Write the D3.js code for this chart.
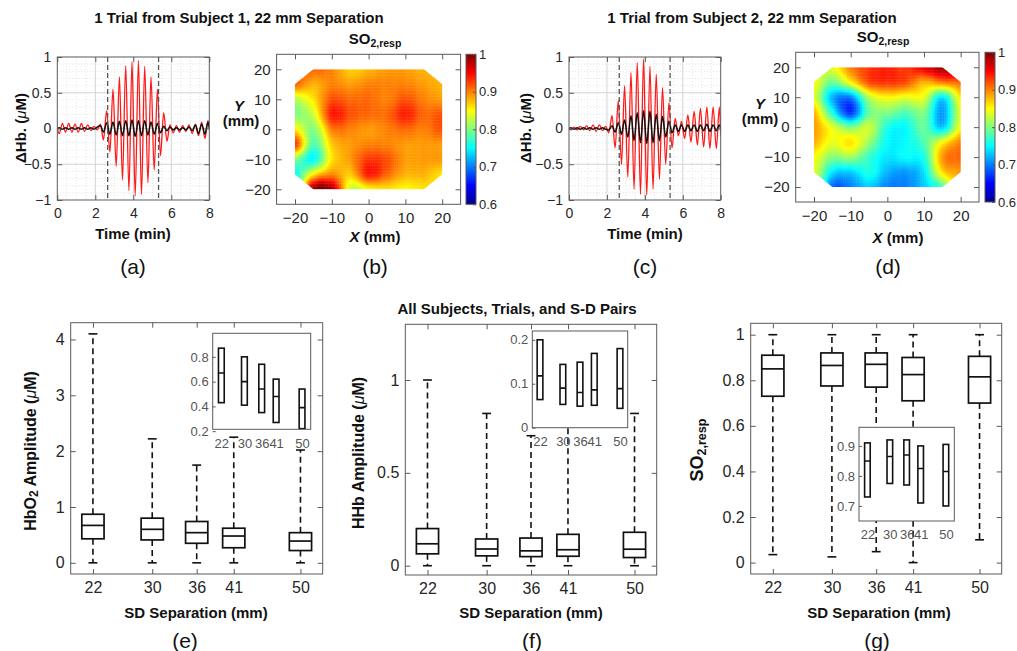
<!DOCTYPE html>
<html>
<head>
<meta charset="utf-8">
<script src="https://cdn.jsdelivr.net/npm/d3@7"></script>
<style>
  body { margin: 0; background: #fff; }
  svg { font-family: "Liberation Sans", Arial, sans-serif; }
</style>
</head>
<body>
<script>
// ---- data ----
// time samples (min) at the half-cycle turning points of the hemodynamic traces
var timeMin = [0, 0.1, 0.27, 0.43, 0.6, 0.77, 0.93, 1.1, 1.27, 1.43,
    1.6, 1.77, 1.93, 2.1, 2.27, 2.43, 2.6, 2.77, 2.93, 3.1,
    3.27, 3.43, 3.6, 3.77, 3.93, 4.1, 4.27, 4.43, 4.6, 4.77,
    4.93, 5.1, 5.27, 5.43, 5.6, 5.77, 5.93, 6.1, 6.27, 6.43,
    6.6, 6.77, 6.93, 7.1, 7.27, 7.43, 7.6, 7.77, 7.93, 8.0];
var stimMin = [2.65, 5.33];   // dashed lines: stimulation on / off

// panel (a): subject 1, red = HbO2, black = HHb
var hbo2A = [0, -0.07, 0.07, -0.05, 0.07, -0.05, 0.06, -0.05, 0.07, -0.04,
    0.05, -0.03, 0.03, -0.02, 0.06, -0.16, 0.25, -0.33, 0.55, -0.53,
    0.72, -0.72, 0.88, -0.87, 0.93, -0.94, 0.95, -0.92, 0.87, -0.76,
    0.72, -0.58, 0.55, -0.38, 0.22, -0.18, 0.05, -0.06, 0.04, -0.05,
    0.04, -0.04, 0.05, -0.07, 0.06, -0.1, 0.09, -0.14, 0.11, 0.03];
var hhbA = [0, 0.01, -0.01, 0.01, -0.01, 0.01, -0.01, 0.01, -0.01, 0.01,
    -0.01, 0.01, -0.01, 0.02, 0.04, -0.05, 0.08, -0.08, 0.09, -0.09,
    0.1, -0.1, 0.11, -0.1, 0.12, -0.11, 0.11, -0.1, 0.11, -0.09,
    0.09, -0.08, 0.07, -0.06, 0.03, -0.03, 0.02, -0.02, 0.01, -0.02,
    0.01, -0.02, 0.02, -0.03, 0.05, -0.07, 0.06, -0.08, 0.09, 0];

// panel (c): subject 2
var hbo2C = [0, -0.02, 0.02, -0.02, 0.03, -0.02, 0.04, -0.03, 0.05, -0.04,
    0.05, -0.03, 0.03, -0.06, 0.18, -0.27, 0.39, -0.5, 0.6, -0.68,
    0.78, -0.85, 0.92, -0.92, 0.97, -0.93, 0.87, -0.85, 0.76, -0.71,
    0.57, -0.5, 0.36, -0.27, 0.14, -0.1, 0.1, -0.14, 0.19, -0.19,
    0.24, -0.23, 0.28, -0.26, 0.3, -0.28, 0.3, -0.28, 0.3, -0.1];
var hhbC = [0, 0.01, -0.01, 0.01, -0.01, 0.01, -0.01, 0.01, -0.01, 0.01,
    -0.01, 0.01, -0.01, -0.02, 0.04, -0.05, 0.08, -0.08, 0.12, -0.12,
    0.18, -0.17, 0.22, -0.2, 0.25, -0.21, 0.24, -0.2, 0.2, -0.17,
    0.17, -0.12, 0.1, -0.06, 0.05, -0.04, 0.05, -0.04, 0.05, -0.03,
    0.05, -0.04, 0.05, -0.03, 0.06, -0.04, 0.05, -0.03, 0.05, 0];

// SO2,resp maps on a 5 mm grid: rows Y = 20 .. -20, columns X = -20 .. 20
var mapX = [-20, -15, -10, -5, 0, 5, 10, 15, 20];
var mapY = [20, 15, 10, 5, 0, -5, -10, -15, -20];
var so2MapB = [
    [0.91, 0.91, 0.90, 0.87, 0.88, 0.89, 0.89, 0.88, 0.88],
    [0.91, 0.88, 0.90, 0.89, 0.90, 0.90, 0.90, 0.89, 0.88],
    [0.82, 0.86, 0.92, 0.91, 0.91, 0.90, 0.92, 0.90, 0.89],
    [0.80, 0.83, 0.94, 0.92, 0.91, 0.91, 0.94, 0.91, 0.92],
    [0.86, 0.80, 0.90, 0.90, 0.89, 0.90, 0.91, 0.90, 0.92],
    [0.93, 0.78, 0.87, 0.89, 0.90, 0.90, 0.89, 0.89, 0.89],
    [0.80, 0.75, 0.86, 0.89, 0.93, 0.92, 0.89, 0.89, 0.89],
    [0.75, 0.86, 0.90, 0.87, 0.94, 0.91, 0.88, 0.88, 0.86],
    [0.75, 1.00, 0.99, 0.83, 0.85, 0.86, 0.85, 0.86, 0.86]];
var so2MapD = [
    [0.84, 0.84, 0.90, 0.93, 0.94, 0.93, 0.96, 0.99, 0.99],
    [0.85, 0.79, 0.85, 0.92, 0.93, 0.92, 0.88, 0.90, 0.91],
    [0.84, 0.72, 0.70, 0.82, 0.85, 0.84, 0.84, 0.74, 0.86],
    [0.88, 0.76, 0.67, 0.79, 0.80, 0.78, 0.80, 0.71, 0.84],
    [0.89, 0.84, 0.80, 0.83, 0.76, 0.75, 0.79, 0.73, 0.85],
    [0.88, 0.84, 0.86, 0.81, 0.75, 0.75, 0.78, 0.85, 0.90],
    [0.85, 0.80, 0.81, 0.77, 0.74, 0.75, 0.76, 0.89, 0.91],
    [0.84, 0.74, 0.73, 0.76, 0.72, 0.71, 0.74, 0.86, 0.89],
    [0.84, 0.69, 0.70, 0.73, 0.70, 0.70, 0.73, 0.78, 0.89]];
var probeOutline = [[-15, 20], [15, 20], [20, 15], [20, -15], [15, -20], [-15, -20], [-20, -15], [-20, 15]];
var colorTicks = [0.6, 0.7, 0.8, 0.9, 1];

// box plots over all subjects, trials and S-D pairs
var sepMm = [22, 30, 36, 41, 50];
var hbo2Low = [0, 0, 0, 0, 0];
var hbo2Q1 = [0.43, 0.41, 0.35, 0.27, 0.22];
var hbo2Med = [0.67, 0.60, 0.54, 0.48, 0.39];
var hbo2Q3 = [0.87, 0.80, 0.74, 0.62, 0.54];
var hbo2High = [4.1, 2.22, 1.75, 2.25, 2.02];

var hhbLow = [0, 0, 0, 0, 0];
var hhbQ1 = [0.064, 0.053, 0.049, 0.051, 0.044];
var hhbMed = [0.118, 0.09, 0.08, 0.086, 0.089];
var hhbQ3 = [0.2, 0.144, 0.149, 0.169, 0.18];
var hhbHigh = [1.0, 0.82, 0.7, 0.75, 0.82];

var so2Low = [0.035, 0.025, 0.048, 0.0, 0.1];
var so2Q1 = [0.73, 0.775, 0.77, 0.71, 0.70];
var so2Med = [0.85, 0.865, 0.87, 0.825, 0.815];
var so2Q3 = [0.91, 0.92, 0.92, 0.90, 0.905];
var so2High = [1, 1, 1, 1, 1];

// ---- drawing ----
var W = 1017, H = 651;
var svg = d3.select("body").append("svg").attr("width", W).attr("height", H);
svg.append("rect").attr("width", W).attr("height", H).attr("fill", "#fff");
var defs = svg.append("defs");
var ink = "#262626", frameCol = "#5a5a5a";

function fmt(d) { return (d < 0 ? "\u2212" : "") + Math.abs(d); }

function label(x, y, s, size, weight, anchor) {
    return svg.append("text").attr("x", x).attr("y", y)
        .attr("font-size", size).attr("font-weight", weight || "normal")
        .attr("text-anchor", anchor || "middle").attr("dominant-baseline", "central")
        .attr("fill", "#111").text(s);
}

// draws ticks on all four sides, pointing inward, like a boxed MATLAB axes
function boxAxes(g, x, y, xt, yt, fs, labelX, labelY) {
    var r = x.range(), d = y.range();
    g.append("g").attr("transform", "translate(0," + d[0] + ")")
        .call(d3.axisBottom(x).tickValues(xt).tickSize(-5).tickPadding(labelX ? 8 : 0)
            .tickFormat(labelX ? fmt : ""));
    g.append("g").attr("transform", "translate(0," + d[1] + ")")
        .call(d3.axisTop(x).tickValues(xt).tickSize(-5).tickFormat(""));
    g.append("g").attr("transform", "translate(" + r[0] + ",0)")
        .call(d3.axisLeft(y).tickValues(yt).tickSize(-5).tickPadding(labelY ? 6 : 0)
            .tickFormat(labelY ? fmt : ""));
    g.append("g").attr("transform", "translate(" + r[1] + ",0)")
        .call(d3.axisRight(y).tickValues(yt).tickSize(-5).tickFormat(""));
    g.selectAll(".domain").remove();
    g.selectAll(".tick line").attr("stroke", frameCol);
    g.selectAll(".tick text").attr("font-size", fs).attr("fill", ink)
        .attr("font-family", "'Liberation Sans', Arial, sans-serif");
    g.append("rect").attr("x", r[0]).attr("y", d[1])
        .attr("width", r[1] - r[0]).attr("height", d[0] - d[1])
        .attr("fill", "none").attr("stroke", frameCol).attr("stroke-width", 1);
}

// ---- (a) and (c): time traces ----
function tracePanel(id, x0, x1, y0, y1, red, black) {
    var x = d3.scaleLinear().domain([0, 8]).range([x0, x1]);
    var y = d3.scaleLinear().domain([-1, 1]).range([y1, y0]);
    var g = svg.append("g");
    defs.append("clipPath").attr("id", "clip" + id).append("rect")
        .attr("x", x0).attr("y", y0).attr("width", x1 - x0).attr("height", y1 - y0);

    g.selectAll(".vmin").data(d3.range(0.5, 8, 0.5)).enter().append("line")
        .attr("x1", function(d){ return x(d); }).attr("x2", function(d){ return x(d); })
        .attr("y1", y0).attr("y2", y1)
        .attr("stroke", function(d){ return d % 2 === 0 ? "#d4d4d4" : "#e3e3e3"; })
        .attr("stroke-dasharray", function(d){ return d % 2 === 0 ? null : "1,2"; });
    g.selectAll(".hmin").data(d3.range(-9, 10).map(function(k){ return k / 10; })).enter().append("line")
        .attr("x1", x0).attr("x2", x1)
        .attr("y1", function(d){ return y(d); }).attr("y2", function(d){ return y(d); })
        .attr("stroke", function(d){ return Math.abs(d * 2 - Math.round(d * 2)) < 1e-6 ? "#d4d4d4" : "#e3e3e3"; })
        .attr("stroke-dasharray", function(d){ return Math.abs(d * 2 - Math.round(d * 2)) < 1e-6 ? null : "1,2"; });

    var line = d3.line().x(function(d){ return x(d[0]); }).y(function(d){ return y(d[1]); })
        .curve(d3.curveMonotoneX);
    var plot = g.append("g").attr("clip-path", "url(#clip" + id + ")");
    plot.append("path").datum(d3.zip(timeMin, red)).attr("d", line)
        .attr("fill", "none").attr("stroke", "#ff1a1a").attr("stroke-width", 1.3);
    plot.append("path").datum(d3.zip(timeMin, black)).attr("d", line)
        .attr("fill", "none").attr("stroke", "#111").attr("stroke-width", 1.5);
    plot.selectAll(".stim").data(stimMin).enter().append("line")
        .attr("x1", function(d){ return x(d); }).attr("x2", function(d){ return x(d); })
        .attr("y1", y0).attr("y2", y1)
        .attr("stroke", "#555").attr("stroke-width", 1.3).attr("stroke-dasharray", "5,3");

    boxAxes(g, x, y, [0, 2, 4, 6, 8], [-1, -0.5, 0, 0.5, 1], 14, true, true);
}

tracePanel("a", 57.3, 209.3, 57, 200, hbo2A, hhbA);
tracePanel("c", 569, 720.7, 57, 200, hbo2C, hhbC);

function dHbLabel(x, y) {
    var t = svg.append("text").attr("transform", "translate(" + x + "," + y + ") rotate(-90)")
        .attr("text-anchor", "middle").attr("dominant-baseline", "central")
        .attr("font-size", 15).attr("font-weight", "bold").attr("fill", "#111");
    t.append("tspan").text("\u0394Hb. (");
    t.append("tspan").attr("font-style", "italic").attr("font-weight", "normal").text("\u03bc");
    t.append("tspan").text("M)");
}
dHbLabel(20, 128);
dHbLabel(525, 128);
label(133, 233, "Time (min)", 15, "bold");
label(645, 233, "Time (min)", 15, "bold");

// ---- (b) and (d): SO2,resp maps ----
var jetStops = [0, 0.125, 0.375, 0.625, 0.875, 1];
var jet = d3.scaleLinear()
    .domain(jetStops.map(function(f){ return 0.6 + 0.4 * f; }))
    .range(["#00008f", "#0000ff", "#00ffff", "#ffff00", "#ff0000", "#800000"])
    .clamp(true);

// Catmull-Rom surface through the grid values, as shading "interp" does
function cr(p0, p1, p2, p3, t) {
    return 0.5 * (2 * p1 + (-p0 + p2) * t + (2 * p0 - 5 * p1 + 4 * p2 - p3) * t * t
        + (-p0 + 3 * p1 - 3 * p2 + p3) * t * t * t);
}
function surface(grid, mx, my) {
    var fi = (mx - mapX[0]) / 5, fj = (mapY[0] - my) / 5;
    var i = Math.max(0, Math.min(7, Math.floor(fi))), j = Math.max(0, Math.min(7, Math.floor(fj)));
    var tx = fi - i, ty = fj - j;
    function at(r, c) { r = Math.max(0, Math.min(8, r)); c = Math.max(0, Math.min(8, c)); return grid[r][c]; }
    var rows = [-1, 0, 1, 2].map(function(dr){
        return cr(at(j + dr, i - 1), at(j + dr, i), at(j + dr, i + 1), at(j + dr, i + 2), tx);
    });
    return cr(rows[0], rows[1], rows[2], rows[3], ty);
}

function mapPanel(id, x0, x1, y0, y1, grid, cbX) {
    var x = d3.scaleLinear().domain([-25, 25]).range([x0, x1]);
    var y = d3.scaleLinear().domain([-25, 25]).range([y1, y0]);
    var g = svg.append("g");
    defs.append("clipPath").attr("id", "oct" + id).append("polygon")
        .attr("points", probeOutline.map(function(p){ return x(p[0]) + "," + y(p[1]); }).join(" "));
    var step = 0.5, cells = [];
    d3.range(-20, 20, step).forEach(function(mx){
        d3.range(-20, 20, step).forEach(function(my){
            cells.push({ mx: mx, my: my, v: surface(grid, mx + step / 2, my + step / 2) });
        });
    });
    g.append("g").attr("clip-path", "url(#oct" + id + ")")
        .selectAll("rect").data(cells).enter().append("rect")
        .attr("x", function(d){ return x(d.mx); })
        .attr("y", function(d){ return y(d.my + step); })
        .attr("width", x(step) - x(0) + 0.4)
        .attr("height", y(0) - y(step) + 0.4)
        .attr("fill", function(d){ return jet(d.v); });
    boxAxes(g, x, y, [-20, -10, 0, 10, 20], [-20, -10, 0, 10, 20], 15, true, true);

    // colour bar
    var cy = d3.scaleLinear().domain([0.6, 1]).range([y1, y0]);
    var grad = defs.append("linearGradient").attr("id", "cb" + id)
        .attr("x1", 0).attr("y1", 1).attr("x2", 0).attr("y2", 0);
    grad.selectAll("stop").data(jetStops).enter().append("stop")
        .attr("offset", function(f){ return f; })
        .attr("stop-color", function(f){ return jet(0.6 + 0.4 * f); });
    g.append("rect").attr("x", cbX).attr("y", y0).attr("width", 10).attr("height", y1 - y0)
        .attr("fill", "url(#cb" + id + ")").attr("stroke", frameCol);
    var ax = g.append("g").attr("transform", "translate(" + (cbX + 10) + ",0)")
        .call(d3.axisRight(cy).tickValues(colorTicks).tickSize(-3).tickPadding(3).tickFormat(fmt));
    ax.select(".domain").remove();
    ax.selectAll(".tick line").attr("stroke", frameCol);
    ax.selectAll(".tick text").attr("font-size", 13).attr("fill", ink)
        .attr("font-family", "'Liberation Sans', Arial, sans-serif");
}

mapPanel("b", 276.6, 460.6, 54.3, 204.3, so2MapB, 466);
mapPanel("d", 795.7, 979, 52.3, 202, so2MapD, 985);

function so2Title(x, y, size, rotate) {
    var t = svg.append("text").attr("text-anchor", "middle").attr("dominant-baseline", "central")
        .attr("font-size", size).attr("font-weight", "bold").attr("fill", "#111");
    if (rotate) t.attr("transform", "translate(" + x + "," + y + ") rotate(-90)");
    else t.attr("x", x).attr("y", y);
    t.append("tspan").text("SO");
    t.append("tspan").attr("font-size", size * 0.7).attr("dy", size * 0.3).text("2,resp");
    return t;
}
so2Title(375, 38, 15);
so2Title(883, 36, 15);

function axisWord(x, y, letter, rest) {
    var t = svg.append("text").attr("x", x).attr("y", y).attr("text-anchor", "middle")
        .attr("dominant-baseline", "central").attr("font-size", 15).attr("font-weight", "bold").attr("fill", "#111");
    t.append("tspan").attr("font-style", "italic").text(letter);
    if (rest) t.append("tspan").text(rest);
}
axisWord(239, 105, "Y");
label(241, 120, "(mm)", 15, "bold");
axisWord(760, 103, "Y");
label(760, 118, "(mm)", 15, "bold");
axisWord(375, 236, "X", " (mm)");
axisWord(898, 237, "X", " (mm)");

// ---- (e), (f), (g): box plots ----
function boxPanel(o) {
    var x = d3.scaleLinear().domain([19, 53]).range([o.x0, o.x1]);
    var y = d3.scaleLinear().domain(o.yDom).range([o.y1, o.y0]);
    var g = svg.append("g");
    var rows = sepMm.map(function(s, i){
        return { s: s, lo: o.lo[i], q1: o.q1[i], med: o.med[i], q3: o.q3[i], hi: o.hi[i] };
    });
    var half = 1.5, cap = 0.6;

    var wh = g.append("g").attr("stroke", "#111").attr("stroke-width", 1.6).attr("stroke-dasharray", "6,4");
    wh.selectAll(".up").data(rows).enter().append("line")
        .attr("x1", function(d){ return x(d.s); }).attr("x2", function(d){ return x(d.s); })
        .attr("y1", function(d){ return y(d.q3); }).attr("y2", function(d){ return y(d.hi); });
    wh.selectAll(".dn").data(rows).enter().append("line")
        .attr("x1", function(d){ return x(d.s); }).attr("x2", function(d){ return x(d.s); })
        .attr("y1", function(d){ return y(d.q1); }).attr("y2", function(d){ return y(d.lo); });
    var caps = g.append("g").attr("stroke", "#111").attr("stroke-width", 1.6);
    ["hi", "lo"].forEach(function(k){
        caps.selectAll(".c" + k).data(rows).enter().append("line")
            .attr("x1", function(d){ return x(d.s - cap); }).attr("x2", function(d){ return x(d.s + cap); })
            .attr("y1", function(d){ return y(d[k]); }).attr("y2", function(d){ return y(d[k]); });
    });
    drawBoxes(g, rows, x, y, half, 1.7);

    boxAxes(g, x, y, sepMm, o.yTicks, 16, true, true);

    // zoomed inset of the boxes
    var n = o.inset;
    var ix = d3.scaleLinear().domain(n.xDom).range([n.x0, n.x1]);
    var iy = d3.scaleLinear().domain(n.yDom).range([n.y1, n.y0]);
    var ig = svg.append("g");
    ig.append("rect").attr("x", n.x0).attr("y", n.y0).attr("width", n.x1 - n.x0)
        .attr("height", n.y1 - n.y0).attr("fill", "#fff");
    defs.append("clipPath").attr("id", "ins" + o.id).append("rect")
        .attr("x", n.x0).attr("y", n.y0).attr("width", n.x1 - n.x0).attr("height", n.y1 - n.y0);
    drawBoxes(ig.append("g").attr("clip-path", "url(#ins" + o.id + ")"), rows, ix, iy, 1, 1.6);
    ig.append("rect").attr("x", n.x0).attr("y", n.y0).attr("width", n.x1 - n.x0)
        .attr("height", n.y1 - n.y0).attr("fill", "none").attr("stroke", frameCol);
    var ly = ig.append("g").attr("transform", "translate(" + n.x0 + ",0)")
        .call(d3.axisLeft(iy).tickValues(n.yTicks).tickSize(-3).tickPadding(4).tickFormat(fmt));
    var lx = ig.append("g").attr("transform", "translate(0," + (n.y1 + 7) + ")")
        .call(d3.axisBottom(ix).tickValues(sepMm).tickSize(0).tickPadding(2));
    lx.select(".domain").remove();
    ly.select(".domain").remove();
    ig.selectAll(".tick line").attr("stroke", frameCol);
    ig.selectAll(".tick text").attr("font-size", 13).attr("fill", "#555")
        .attr("font-family", "'Liberation Sans', Arial, sans-serif");
}

function drawBoxes(g, rows, x, y, half, sw) {
    g.selectAll(".box").data(rows).enter().append("rect")
        .attr("x", function(d){ return x(d.s - half); })
        .attr("width", function(d){ return x(d.s + half) - x(d.s - half); })
        .attr("y", function(d){ return y(d.q3); })
        .attr("height", function(d){ return y(d.q1) - y(d.q3); })
        .attr("fill", "none").attr("stroke", "#111").attr("stroke-width", sw);
    g.selectAll(".med").data(rows).enter().append("line")
        .attr("x1", function(d){ return x(d.s - half); }).attr("x2", function(d){ return x(d.s + half); })
        .attr("y1", function(d){ return y(d.med); }).attr("y2", function(d){ return y(d.med); })
        .attr("stroke", "#111").attr("stroke-width", sw);
}

boxPanel({ id: "e", x0: 70.7, x1: 322.7, y0: 322.7, y1: 574, yDom: [-0.2, 4.3], yTicks: [0, 1, 2, 3, 4],
    lo: hbo2Low, q1: hbo2Q1, med: hbo2Med, q3: hbo2Q3, hi: hbo2High,
    inset: { x0: 212.7, x1: 310.7, y0: 333.3, y1: 429.3, xDom: [19, 53], yDom: [0.215, 0.99], yTicks: [0.2, 0.4, 0.6, 0.8] } });
boxPanel({ id: "f", x0: 405.3, x1: 656.7, y0: 324.3, y1: 575, yDom: [-0.05, 1.3], yTicks: [0, 0.5, 1],
    lo: hhbLow, q1: hhbQ1, med: hhbMed, q3: hhbQ3, hi: hhbHigh,
    inset: { x0: 532.3, x1: 627.7, y0: 331, y1: 427.7, xDom: [19.3, 52.7], yDom: [0, 0.22], yTicks: [0, 0.1, 0.2] } });
boxPanel({ id: "g", x0: 750.7, x1: 1001.7, y0: 323.3, y1: 574, yDom: [-0.05, 1.05], yTicks: [0, 0.2, 0.4, 0.6, 0.8, 1],
    lo: so2Low, q1: so2Q1, med: so2Med, q3: so2Q3, hi: so2High,
    inset: { x0: 859, x1: 954.3, y0: 427.3, y1: 521, xDom: [19, 53], yDom: [0.65, 0.962], yTicks: [0.7, 0.8, 0.9] } });

function ampLabel(x, y, pre, sub) {
    var t = svg.append("text").attr("transform", "translate(" + x + "," + y + ") rotate(-90)")
        .attr("text-anchor", "middle").attr("dominant-baseline", "central")
        .attr("font-size", 16).attr("font-weight", "bold").attr("fill", "#111");
    t.append("tspan").text(pre);
    if (sub) {
        t.append("tspan").attr("font-size", 12).attr("dy", 4).text(sub);
        t.append("tspan").attr("dy", -4).text(" Amplitude (");
    } else {
        t.append("tspan").text(" Amplitude (");
    }
    t.append("tspan").attr("font-style", "italic").attr("font-weight", "normal").text("\u03bc");
    t.append("tspan").text("M)");
}
ampLabel(30, 451, "HbO", "2");
ampLabel(358, 453, "HHb");
so2Title(697, 450, 18, true);

[196, 531, 879].forEach(function(cx){ label(cx, 612, "SD Separation (mm)", 15, "bold"); });

// ---- titles and panel letters ----
label(239, 17, "1 Trial from Subject 1, 22 mm Separation", 15, "bold");
label(752, 17, "1 Trial from Subject 2, 22 mm Separation", 15, "bold");
label(517, 308, "All Subjects, Trials, and S-D Pairs", 15, "bold");

var letters = [["(a)", 133, 266], ["(b)", 375, 266], ["(c)", 645, 266], ["(d)", 888, 266],
    ["(e)", 185, 640], ["(f)", 532, 640], ["(g)", 877, 640]];
letters.forEach(function(l){ label(l[1], l[2], l[0], 21); });
</script>
</body>
</html>
